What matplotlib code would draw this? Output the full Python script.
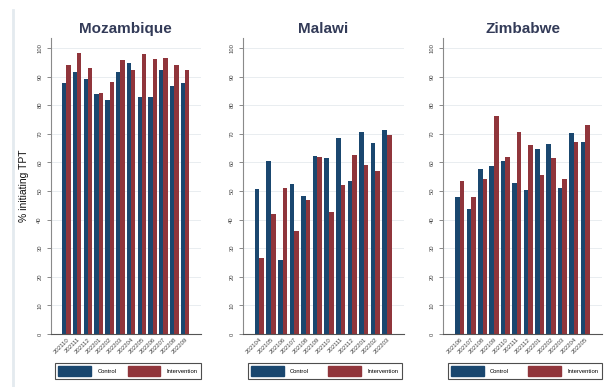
import numpy as np
import matplotlib
matplotlib.use("Agg")
import matplotlib.pyplot as plt
from matplotlib.patches import Patch
from matplotlib.lines import Line2D

plt.rcParams['font.family'] = ['Liberation Sans', 'DejaVu Sans']

# data (% initiating TPT)
moz_months = ['202110', '202111', '202112', '202201', '202202', '202203',
              '202204', '202205', '202206', '202207', '202208', '202209']
moz_control = [87.6, 91.7, 89.1, 84.0, 81.7, 91.7, 94.6, 82.7, 83.0, 92.2, 86.7, 87.9]
moz_interv = [94.1, 98.4, 93.1, 84.4, 88.1, 95.9, 92.2, 97.8, 96.3, 96.4, 94.1, 92.3]

mal_months = ['202104', '202105', '202106', '202107', '202108', '202109',
              '202110', '202111', '202112', '202201', '202202', '202203']
mal_control = [50.6, 60.6, 25.9, 52.4, 48.3, 62.1, 61.4, 68.4, 53.4, 70.7, 66.7, 71.2]
mal_interv = [26.4, 41.8, 51.0, 36.1, 46.9, 62.0, 42.7, 52.0, 62.6, 59.1, 57.0, 69.5]

zim_months = ['202106', '202107', '202108', '202109', '202110', '202111',
              '202112', '202201', '202202', '202203', '202204', '202205']
zim_control = [47.8, 43.7, 57.8, 58.9, 60.5, 52.8, 50.5, 64.8, 66.4, 50.9, 70.2, 67.0]
zim_interv = [53.6, 48.0, 54.2, 76.1, 61.8, 70.6, 66.1, 55.5, 61.7, 54.2, 67.0, 73.2]

yticks = list(range(0, 101, 10))

NAVY = '#1a476f'
MAROON = '#90353b'
W, H = 613, 387

fig = plt.figure(figsize=(W / 100, H / 100), dpi=100)

# faint frame line at the left of the screenshot
fig.add_artist(Line2D([12.5 / W, 12.5 / W], [0, 1 - 10 / H], color='#e4eaef', lw=2))

panels = [
    ('Mozambique', moz_months, moz_control, moz_interv, 50.7, 150.0, 55, 146),
    ('Malawi', mal_months, mal_control, mal_interv, 242.7, 161.0, 247.7, 154),
    ('Zimbabwe', zim_months, zim_control, zim_interv, 443.3, 158.5, 447.7, 154),
]

for k, (title, months, ctrl, interv, x0, wpx, lx, lw) in enumerate(panels):
    ax = fig.add_axes([x0 / W, (H - 334) / H, wpx / W, 296 / H])
    x = np.arange(len(months))
    ax.bar(x - 0.2, ctrl, width=0.4, color=NAVY, linewidth=0, zorder=2)
    ax.bar(x + 0.2, interv, width=0.4, color=MAROON, linewidth=0, zorder=2)

    ax.set_xlim(-1.45, 12.45)
    ax.set_ylim(0, 103.5)
    ax.set_yticks(yticks)
    ax.set_yticklabels([str(v) for v in yticks], rotation=90, va='center',
                       fontsize=4.2, color='#444444')
    ax.set_xticks(x)
    ax.set_xticklabels(months, rotation=45, ha='right', rotation_mode='anchor',
                       fontsize=4.3, color='#444444')
    ax.tick_params(axis='y', length=3, width=0.6, color='#777777', pad=3)
    ax.tick_params(axis='x', length=0, pad=2)
    ax.grid(axis='y', color='#e9edf0', lw=0.7, zorder=0)
    ax.set_axisbelow(True)
    for s in ['top', 'right']:
        ax.spines[s].set_visible(False)
    ax.spines['left'].set_color('#8a8a8a')
    ax.spines['left'].set_linewidth(0.8)
    ax.spines['bottom'].set_color('#555555')
    ax.spines['bottom'].set_linewidth(0.8)

    ax.set_title(title, fontsize=11, fontweight='bold', color='#333b58', pad=3.5)
    if k == 0:
        ax.set_ylabel('% initiating TPT', fontsize=7.5, color='#111111', labelpad=6)

    handles = [Patch(facecolor=NAVY, edgecolor=NAVY), Patch(facecolor=MAROON, edgecolor=MAROON)]
    leg = ax.legend(handles, ['Control', 'Intervention'], loc='upper left',
                    bbox_to_anchor=(lx / W, (H - 383) / H, lw / W, 20.5 / H),
                    bbox_transform=fig.transFigure, mode='expand', ncol=2,
                    fontsize=4.2, handlelength=5.6, handleheight=2.3,
                    handletextpad=1.1, columnspacing=1.5, borderaxespad=0,
                    borderpad=0.55, frameon=True, fancybox=False)
    leg.get_frame().set_edgecolor('#222222')
    leg.get_frame().set_linewidth(0.8)

fig.savefig('out.png', dpi=100)
